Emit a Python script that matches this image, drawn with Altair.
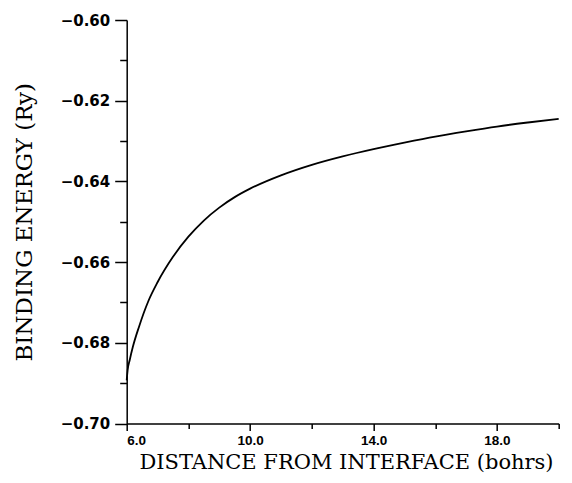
import altair as alt
import pandas as pd

# Distance from interface (bohrs) and binding energy (Ry)
distance = [6.0, 6.03, 6.1, 6.2, 6.4, 6.7, 7.0, 7.5, 8.0, 8.5, 9.0, 9.5, 10.0,
            11.0, 12.0, 13.0, 14.0, 15.0, 16.0, 17.0, 18.0, 19.0, 20.0]
energy = [-0.6893, -0.6868, -0.6842, -0.6810, -0.6760, -0.6697, -0.6650, -0.6587,
          -0.6537, -0.6497, -0.6465, -0.6439, -0.6418, -0.6385, -0.6359, -0.6338,
          -0.6320, -0.6304, -0.6289, -0.6276, -0.6264, -0.6254, -0.6245]

x_major = [6.0, 10.0, 14.0, 18.0]
x_minor = [8.0, 12.0, 16.0, 20.0]
y_major = [-0.70, -0.68, -0.66, -0.64, -0.62, -0.60]
y_minor = [-0.69, -0.67, -0.65, -0.63, -0.61]

df = pd.DataFrame({"x": distance, "y": energy})

xscale = alt.Scale(domain=[6, 20], nice=False, zero=False)
yscale = alt.Scale(domain=[-0.70, -0.60], nice=False, zero=False)

W, H = 432, 403.5

base = alt.Chart(df)

main = base.mark_line(color="black", strokeWidth=1.8, interpolate="monotone").encode(
    x=alt.X("x:Q", scale=xscale, axis=alt.Axis(
        orient="bottom", values=x_major, format=".1f", grid=False,
        tickSize=7, tickWidth=1.5, tickColor="black",
        domainColor="black", domainWidth=1.5,
        labelFont="Liberation Sans", labelFontSize=13.5, labelFontWeight="bold",
        labelColor="black", labelPadding=3,
        title="DISTANCE FROM INTERFACE (bohrs)", titleFont="DejaVu Serif",
        titleFontSize=21, titleFontWeight="normal", titleColor="black",
        titleX=219.3, titleY=45.5, titleAlign="center", titleBaseline="alphabetic")),
    y=alt.Y("y:Q", scale=yscale, axis=alt.Axis(
        orient="left", values=y_major, format=".2f", grid=False,
        tickSize=12, tickWidth=1.5, tickColor="black",
        domainColor="black", domainWidth=1.5,
        labelFont="DejaVu Sans", labelFontSize=15, labelFontWeight="bold",
        labelColor="black", labelPadding=5,
        title="BINDING ENERGY (Ry)", titleFont="DejaVu Serif",
        titleFontSize=23, titleFontWeight="normal", titleColor="black",
        titleX=-95, titleY=H / 2, titleAngle=270, titleAlign="center",
        titleBaseline="alphabetic")),
)

minor = base.mark_line(opacity=0).encode(
    x=alt.X("x:Q", scale=xscale, axis=alt.Axis(
        orient="bottom", values=x_minor, labels=False, domain=False, grid=False,
        tickSize=5, tickWidth=1.5, tickColor="black", title=None)),
    y=alt.Y("y:Q", scale=yscale, axis=alt.Axis(
        orient="left", values=y_minor, labels=False, domain=False, grid=False,
        tickSize=7, tickWidth=1.5, tickColor="black", title=None)),
)

chart = alt.layer(main, minor).resolve_axis(x="independent", y="independent").properties(
    width=W, height=H,
    autosize=alt.AutoSizeParams(type="none"),
    padding={"left": 118.7, "top": 12, "right": 5, "bottom": 51.5},
).configure_view(stroke=None)

chart.save("out.html", embed_options={"renderer": "svg", "actions": False})
